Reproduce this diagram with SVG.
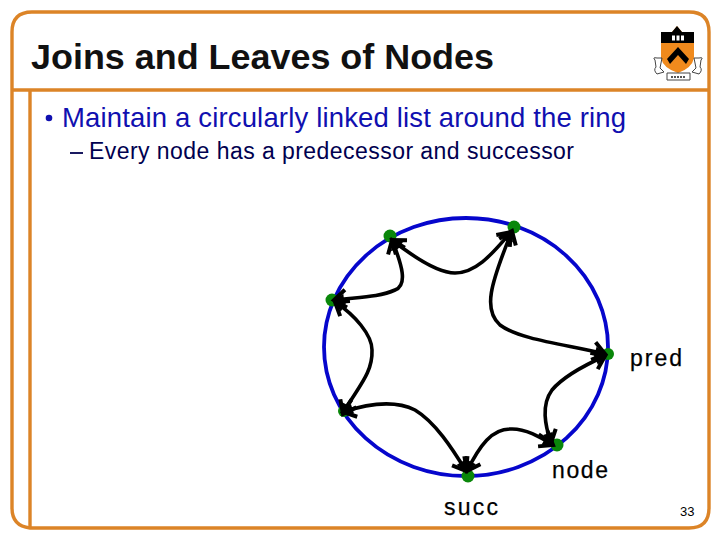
<svg xmlns="http://www.w3.org/2000/svg" width="720" height="540" viewBox="0 0 720 540">
<style>
.frame{fill:none;stroke:#dc8427;stroke-width:3.4}
.sans{font-family:"Liberation Sans",Arial,sans-serif}
.link{fill:none;stroke:#000;stroke-width:3.6;marker-start:url(#head);marker-end:url(#head)}
.dot{fill:#0a870a}
.lbl{font-size:23px;fill:#000;stroke:#000;stroke-width:.25}
</style>
<defs>
<marker id="head" markerUnits="userSpaceOnUse" markerWidth="30" markerHeight="30" refX="22" refY="15" orient="auto-start-reverse" viewBox="0 0 30 30">
<path d="M10,6 L22,15 L10,24" fill="none" stroke="#000" stroke-width="4"/>
<path d="M22,15 L12,10 L12,20 Z" fill="#000"/>
</marker>
</defs>
<rect width="720" height="540" fill="#fff"/>
<g id="frame">
<path class="frame" d="M12,32 Q12,12 32,12 H689 Q709,12 709,32 V508 Q709,528 689,528 H30 Q12,526 12,508 Z"/>
<path class="frame" d="M12,90 H709 M30,90 V528"/>
</g>
<g id="logo">
<path d="M661,32 L672,32 L677,26 L682,32 L694,32 L694,58 Q692,68 678,73 Q663,68 661,58 Z" fill="#f08a1d"/>
<path d="M661,32 L672,32 L677,26 L682,32 L694,32 L694,43 L661,43 Z" fill="#000"/>
<path d="M667,59 L678,47 L689,59 L686,64 L678,55 L670,64 Z" fill="#000"/>
<path d="M672,38 H685" stroke="#fff" stroke-width="5" stroke-dasharray="3 1.5"/>
<g fill="none" stroke="#444" stroke-width="1">
<path d="M655,60 Q652,57 657,58 L662,58 L660,68 L664,72 L657,74 Q653,70 656,67 Z"/>
<path d="M701,60 Q704,57 699,58 L694,58 L696,68 L692,72 L699,74 Q703,70 700,67 Z"/>
<path d="M667,73 H690 V80 H667 Z"/>
</g>
<path d="M671,77 H686" stroke="#555" stroke-width="2" stroke-dasharray="2 1"/>
</g>
<text class="sans" x="31" y="69" font-size="35" font-weight="700" fill="#111" textLength="463" lengthAdjust="spacingAndGlyphs">Joins and Leaves of Nodes</text>
<circle cx="49" cy="118" r="3.3" fill="#1010b0"/>
<text class="sans" x="62" y="127" font-size="27.5" fill="#1010b0" textLength="564" lengthAdjust="spacing">Maintain a circularly linked list around the ring</text>
<path d="M70,153 H83" stroke="#000050" stroke-width="1.8"/>
<text class="sans" x="89" y="159" font-size="23" fill="#000050" textLength="485" lengthAdjust="spacing">Every node has a predecessor and successor</text>
<g id="ring"><ellipse cx="466" cy="347" rx="142" ry="129" fill="none" stroke="#0606cc" stroke-width="3.8"/></g>
<g id="node-n1"><circle class="dot" cx="390" cy="236" r="6.5"/></g>
<g id="node-n2"><circle class="dot" cx="514" cy="227" r="6.5"/></g>
<g id="node-pred"><circle class="dot" cx="608" cy="354" r="6"/><text class="sans lbl" x="630" y="366" textLength="52" lengthAdjust="spacing">pred</text></g>
<g id="node-node"><circle class="dot" cx="557" cy="445" r="6.5"/><text class="sans lbl" x="552" y="478" textLength="56" lengthAdjust="spacing">node</text></g>
<g id="node-succ"><circle class="dot" cx="468" cy="476" r="6.5"/><text class="sans lbl" x="444" y="515" textLength="54" lengthAdjust="spacing">succ</text></g>
<g id="node-n6"><circle class="dot" cx="344" cy="411" r="6"/></g>
<g id="node-n7"><circle class="dot" cx="332" cy="300" r="6.5"/></g>
<g id="connectors">
<path class="link" d="M511,232 C495,250 478,273 455,273 C440,273 420,262 392,240"/>
<path class="link" d="M392,240 C402,265 408,285 395,290 C380,297 360,297 334,300"/>
<path class="link" d="M335,302 C355,315 372,335 372,350 C373,375 355,390 343,414"/>
<path class="link" d="M343,412 C370,403 395,400 415,410 C435,422 452,448 466,471"/>
<path class="link" d="M467,471 C480,445 492,429 510,429 C525,428 540,437 553,445"/>
<path class="link" d="M551,443 C545,425 541,405 552,390 C562,378 585,365 605,356"/>
<path class="link" d="M605,354 C570,345 520,340 500,325 C483,310 490,285 512,231"/>
</g>
<text class="sans" x="680" y="516" font-size="13" fill="#000">33</text>
</svg>
